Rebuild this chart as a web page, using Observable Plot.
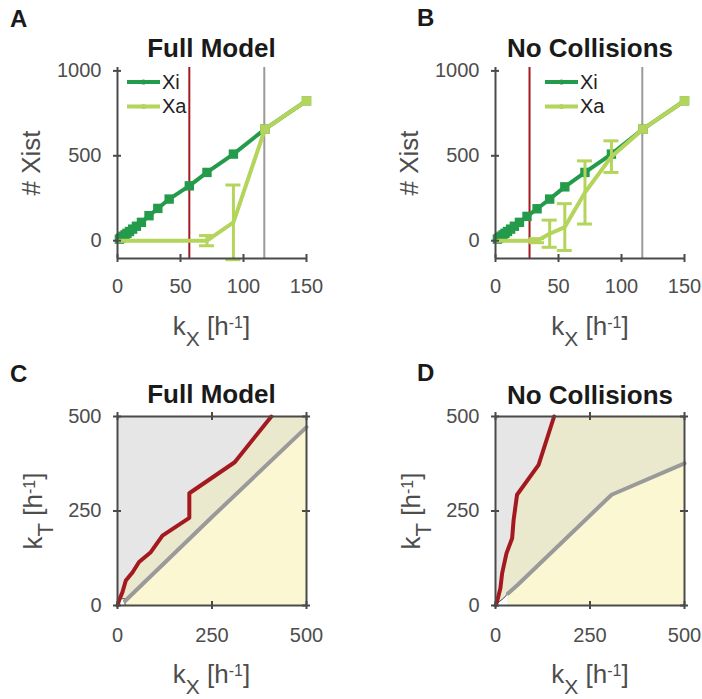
<!DOCTYPE html>
<html><head><meta charset="utf-8">
<script src="https://cdn.jsdelivr.net/npm/d3@7"></script>
<script src="https://cdn.jsdelivr.net/npm/@observablehq/plot@0.6"></script>
<style>
body{margin:0;background:#fff;}
#fig{position:relative;width:702px;height:699px;overflow:hidden;background:#fff;font-family:"Liberation Sans",Arial,sans-serif;}
#fig svg{position:absolute;overflow:visible;}
</style></head><body><div id="fig"></div>
<script>
// ---------- data: panels A & B (# Xist vs kX) ----------
const kxA  = [1.5,2.5,3.5,4.5,6,7.5,9.5,12,15,19,25,32,41,57,71,92,117,150];
const xiA  = [9,14,20,26,34,43,54,68,85,108,147,190,245,323,402,510,657,824];
const xaA  = [0,0,0,0,0,0,0,0,0,0,0,0,0,0,0,108,657,824];
const errA = [0,0,0,0,0,0,0,0,0,0,0,0,0,0,30,220,0,0];
const redA = 57, grayA = 116.5;

const kxB  = [1.5,2.5,3.5,4.5,6,7.5,9.5,12,15,19,25,33,43,55,71,92,117,150];
const xiB  = [9,14,20,26,34,43,54,68,85,108,143,188,245,317,402,510,657,824];
const xaB  = [0,0,0,0,0,0,0,0,0,0,0,0,41,80,284,495,657,824];
const errB = [0,0,0,0,0,0,0,0,0,0,0,12,80,138,186,93,0,0];
const redB = 27, grayB = 116.5;

const xTicksTop = [0,50,100,150];
const yTicksTop = [0,500,1000];

// ---------- data: panels C & D (kT vs kX phase diagrams) ----------
const kxRedC  = [0,4,13,22,40,57,88,119,190,190,310,407];
const ktRedC  = [0,13,35,66,88,115,141,185,232,297,379,500];
const kxGrayC = [20,252,500];
const ktGrayC = [12,236,472];
const kxEdgeC = [0,20];
const ktEdgeC = [18,18];

const kxRedD  = [0,4,13,17.5,29,44,48,57,114,155];
const ktRedD  = [0,10,46,85,138,178,227,293,372,500];
const kxGrayD = [33,59,307,500];
const ktGrayD = [32,55,293,376];
const kxEdgeD = [0,10,22,33];
const ktEdgeD = [6,10,20,32];

const ticksPhase = [0,250,500];

// ---------- styles ----------
const DG="#239b4b", LG="#b4d45c", RED="#a3191f", GRAY="#9a9a9a", AX="#4a4a4a", AXT="#4d4d4d";
const C_BG="#e6e6e6", C_MID="#ebe9cd", C_LOW="#fcf7d3";
const fig = document.getElementById("fig");
const W=345, H=350, ML=117, MR=39;
const fmt = d => String(d);

function linePanel(kx, xi, xa, err, red, gray, left, top){
  const data = kx.map((k,i)=>({k, xi:xi[i], xa:xa[i], err:err[i]}));
  const eb = data.filter(d=>d.err>0);
  const xDom=[0,150], yDom=[-105,1020];
  const MT=67, MB=92;
  const pxX=(W-ML-MR)/(xDom[1]-xDom[0]), pxY=(H-MT-MB)/(yDom[1]-yDom[0]);
  const tx=4/pxX, ty=4/pxY, cap=7.5/pxX;
  const svg = Plot.plot({
    width:W, height:H, marginLeft:ML, marginRight:MR, marginTop:MT, marginBottom:MB,
    style:{fontFamily:"Liberation Sans, Arial, sans-serif", background:"transparent"},
    x:{domain:xDom, axis:null}, y:{domain:yDom, axis:null},
    marks:[
      Plot.ruleX([red], {stroke:RED, strokeWidth:2}),
      Plot.ruleX([gray], {stroke:GRAY, strokeWidth:2}),
      Plot.line(data, {x:"k", y:"xi", stroke:DG, strokeWidth:4}),
      Plot.dot(data, {x:"k", y:"xi", symbol:"square", r:5.3, fill:DG}),
      Plot.ruleX(eb, {x:"k", y1:d=>d.xa-d.err, y2:d=>d.xa+d.err, stroke:LG, strokeWidth:3}),
      Plot.ruleY(eb, {y:d=>d.xa+d.err, x1:d=>d.k-cap, x2:d=>d.k+cap, stroke:LG, strokeWidth:3}),
      Plot.ruleY(eb, {y:d=>d.xa-d.err, x1:d=>d.k-cap, x2:d=>d.k+cap, stroke:LG, strokeWidth:3}),
      Plot.line(data, {x:"k", y:"xa", stroke:LG, strokeWidth:4}),
      Plot.dot(data.filter(d=>d.xa>0 && d.err===0), {x:"k", y:"xa", symbol:"square", r:5.3, fill:LG}),
      Plot.ruleX([xDom[0]], {stroke:AX, strokeWidth:2}),
      Plot.ruleY([yDom[0]], {stroke:AX, strokeWidth:2}),
      Plot.ruleX(xTicksTop, {y1:yDom[0]-ty, y2:yDom[0]+ty, stroke:AX, strokeWidth:2}),
      Plot.ruleY(yTicksTop, {x1:xDom[0]-tx, x2:xDom[0]+tx, stroke:AX, strokeWidth:2}),
      Plot.axisX({ticks:xTicksTop, tickFormat:fmt, tickSize:0, tickPadding:20, label:null, fontSize:20, color:AXT}),
      Plot.axisY({ticks:yTicksTop, tickFormat:fmt, tickSize:0, tickPadding:16, label:null, fontSize:20, color:AXT})
    ]
  });
  svg.style.left=left+"px"; svg.style.top=top+"px";
  fig.appendChild(svg);
}

function phasePanel(kxR, ktR, kxG, ktG, kxE, ktE, boxEdge, left, top){
  const red = kxR.map((x,i)=>({x, y:ktR[i]}));
  const gray = kxG.map((x,i)=>({x, y:ktG[i]}));
  const edge = kxE.map((x,i)=>({x, y:ktE[i]}));
  const dom=[0,500];
  const MT=70, MB=91;
  const px=(W-ML-MR)/500;
  const t=4/px;
  const marks=[
    Plot.frame({fill:C_BG, stroke:null}),
    Plot.areaX(red, {y:"y", x1:"x", x2:dom[1], fill:C_MID}),
    Plot.areaY(gray, {x:"x", y1:dom[0], y2:"y", fill:C_LOW}),
    Plot.areaY(edge, {x:"x", y1:dom[0], y2:"y", fill:"#ffffff"})
  ];
  if (boxEdge) {
    marks.push(Plot.line(edge, {x:"x", y:"y", stroke:"#222", strokeWidth:0.8}));
    marks.push(Plot.ruleX(edge.slice(-1), {x:"x", y1:dom[0], y2:"y", stroke:"#222", strokeWidth:0.8}));
  } else {
    marks.push(Plot.line(edge, {x:"x", y:"y", stroke:"#222", strokeWidth:0.9}));
  }
  marks.push(
    Plot.line(gray, {x:"x", y:"y", stroke:GRAY, strokeWidth:4, strokeLinejoin:"round"}),
    Plot.line(red, {x:"x", y:"y", stroke:RED, strokeWidth:4, strokeLinejoin:"round"}),
    Plot.frame({stroke:AX, strokeWidth:2}),
    Plot.ruleX(ticksPhase, {y1:dom[0]-t, y2:dom[0]+t, stroke:AX, strokeWidth:2}),
    Plot.ruleX(ticksPhase, {y1:dom[1]-t, y2:dom[1]+t, stroke:AX, strokeWidth:2}),
    Plot.ruleY(ticksPhase, {x1:dom[0]-t, x2:dom[0]+t, stroke:AX, strokeWidth:2}),
    Plot.ruleY(ticksPhase, {x1:dom[1]-t, x2:dom[1]+t, stroke:AX, strokeWidth:2}),
    Plot.axisX({ticks:ticksPhase, tickFormat:fmt, tickSize:0, tickPadding:22, label:null, fontSize:20, color:AXT}),
    Plot.axisY({ticks:ticksPhase, tickFormat:fmt, tickSize:0, tickPadding:16, label:null, fontSize:20, color:AXT})
  );
  const svg = Plot.plot({
    width:W, height:H, marginLeft:ML, marginRight:MR, marginTop:MT, marginBottom:MB,
    style:{fontFamily:"Liberation Sans, Arial, sans-serif", background:"transparent"},
    x:{domain:dom, axis:null}, y:{domain:dom, axis:null},
    marks
  });
  svg.style.left=left+"px"; svg.style.top=top+"px";
  fig.appendChild(svg);
}

linePanel(kxA, xiA, xaA, errA, redA, grayA, 0, 0);
linePanel(kxB, xiB, xaB, errB, redB, grayB, 378, 0);
phasePanel(kxRedC, ktRedC, kxGrayC, ktGrayC, kxEdgeC, ktEdgeC, true, 0, 346);
phasePanel(kxRedD, ktRedD, kxGrayD, ktGrayD, kxEdgeD, ktEdgeD, false, 378, 346);

// ---------- text overlay ----------
const F='font-family="Liberation Sans, Arial, sans-serif"';
function xlab(cx, by){
  return `<text x="${cx}" y="${by}" text-anchor="middle" font-size="26" fill="${AXT}" ${F}>k<tspan dy="11" font-size="21">X</tspan><tspan dy="-11"> [h</tspan><tspan dy="-7" font-size="16">-1</tspan><tspan dy="7">]</tspan></text>`;
}
function ktlab(bx, cy){
  return `<text transform="translate(${bx},${cy}) rotate(-90)" text-anchor="middle" font-size="26" fill="${AXT}" ${F}>k<tspan dy="11" font-size="22">T</tspan><tspan dy="-11"> [h</tspan><tspan dy="-7" font-size="16">-1</tspan><tspan dy="7">]</tspan></text>`;
}
function legend(x0){
  return `<line x1="${x0}" x2="${x0+33}" y1="82" y2="82" stroke="${DG}" stroke-width="4"/>
  <circle cx="${x0+16.5}" cy="82" r="2.6" fill="${DG}"/>
  <text x="${x0+35}" y="89" font-size="20" fill="#222" ${F}>Xi</text>
  <line x1="${x0}" x2="${x0+33}" y1="106.5" y2="106.5" stroke="${LG}" stroke-width="4"/>
  <circle cx="${x0+16.5}" cy="106.5" r="2.6" fill="${LG}"/>
  <text x="${x0+35}" y="113" font-size="20" fill="#222" ${F}>Xa</text>`;
}
const ov = `<svg width="702" height="699" style="left:0;top:0;pointer-events:none" xmlns="http://www.w3.org/2000/svg">
  <g font-weight="bold" fill="#1a1a1a" ${F}>
    <text x="10" y="27" font-size="24">A</text>
    <text x="417" y="26" font-size="24">B</text>
    <text x="10" y="382" font-size="24">C</text>
    <text x="417" y="381" font-size="24">D</text>
    <text x="211.5" y="57" font-size="26" text-anchor="middle">Full Model</text>
    <text x="590" y="57" font-size="26" text-anchor="middle">No Collisions</text>
    <text x="211.5" y="403" font-size="26" text-anchor="middle">Full Model</text>
    <text x="590" y="404" font-size="26" text-anchor="middle">No Collisions</text>
  </g>
  <text transform="translate(40,163) rotate(-90)" text-anchor="middle" font-size="26" fill="${AXT}" ${F}># Xist</text>
  <text transform="translate(418,163) rotate(-90)" text-anchor="middle" font-size="26" fill="${AXT}" ${F}># Xist</text>
  ${xlab(211.5,335)}${xlab(590,335)}${xlab(211.5,683)}${xlab(590,683)}
  ${ktlab(42,511)}${ktlab(420,511)}
  ${legend(127)}${legend(545)}
</svg>`;
fig.insertAdjacentHTML("beforeend", ov);
</script></body></html>
